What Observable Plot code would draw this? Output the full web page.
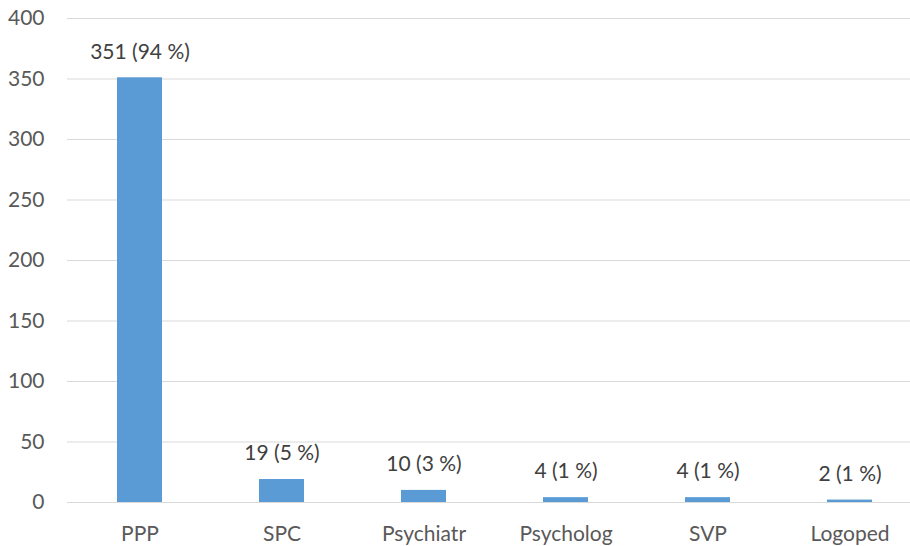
<!DOCTYPE html>
<html><head><meta charset="utf-8">
<script src="https://cdn.jsdelivr.net/npm/d3@7"></script>
<script src="https://cdn.jsdelivr.net/npm/@observablehq/plot@0.6"></script>
<style>body{margin:0;background:#fff}</style>
</head><body><div id="chart"></div>
<script>
const categories = ["PPP", "SPC", "Psychiatr", "Psycholog", "SVP", "Logoped"];
const counts = [351, 19, 10, 4, 4, 2];
const percents = [94, 5, 3, 1, 1, 1];
const yTicks = [0, 50, 100, 150, 200, 250, 300, 350, 400];

const data = categories.map((c, i) => ({cat: c, n: counts[i], label: `${counts[i]} (${percents[i]} %)`}));

const chart = Plot.plot({
  width: 910, height: 546,
  marginLeft: 67, marginRight: 0, marginTop: 18, marginBottom: 44,
  style: {fontFamily: "Lato, sans-serif", fontSize: "21px", color: "#595959", background: "#fff"},
  x: {domain: categories, range: [67, 922], paddingInner: 0.684, paddingOuter: 0.342, label: null},
  y: {domain: [0, 400], ticks: yTicks, label: null},
  marks: [
    Plot.gridY(yTicks, {stroke: "#d9d9d9", strokeOpacity: 1, strokeWidth: 1}),
    Plot.barY(data, {x: "cat", y: "n", fill: "#5B9BD5"}),
    Plot.text(data, {x: "cat", y: "n", text: "label", dy: -26, fill: "#404040", fontSize: 21}),
    Plot.axisY(yTicks, {tickSize: 0, tickPadding: 23, fontSize: 21, fill: "#595959"}),
    Plot.axisX({tickSize: 0, tickPadding: 24, fontSize: 21, fill: "#595959"})
  ]
});
document.getElementById("chart").append(chart);
</script>
</body></html>
